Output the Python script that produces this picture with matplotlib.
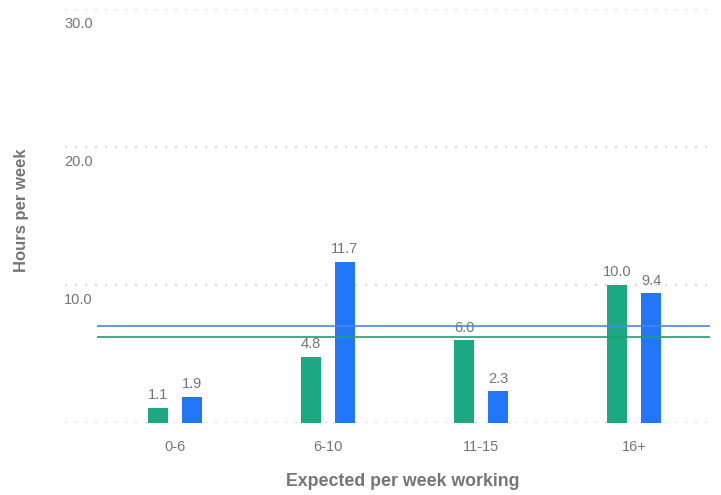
import matplotlib
matplotlib.use("Agg")
import matplotlib.pyplot as plt

categories = ["0-6", "6-10", "11-15", "16+"]
series_green = [1.1, 4.8, 6.0, 10.0]
series_blue = [1.9, 11.7, 2.3, 9.4]
avg_green = 6.2
avg_blue = 7.0
y_ticks = [0, 10, 20, 30]
y_tick_labels = ["", "10.0", "20.0", "30.0"]

plt.rcParams['font.family'] = ['Liberation Sans', 'DejaVu Sans']
GREEN = "#1ca883"
BLUE = "#2176fa"
GRAY = "#757575"

W, H = 721, 495
fig = plt.figure(figsize=(W / 100, H / 100), dpi=100)
ax = fig.add_axes([65 / W, 72 / H, (710 - 65) / W, (486 - 72) / H])

x = list(range(len(categories)))
off = 17 / 153
bw = 20 / 153
ax.set_xlim(-110 / 153, 3 + (710 - 634) / 153)
ax.set_ylim(0, 30)

for t in y_ticks:
    ax.axhline(t, color="#dcdcdc", lw=1.6, ls=(0, (1, 3.5)), zorder=0)
for t, lab in zip(y_ticks, y_tick_labels):
    if lab:
        ax.text(-111 / 153, t - 0.55, lab, ha="left", va="top", color=GRAY, fontsize=10.5)

ax.bar([i - off for i in x], series_green, width=bw, color=GREEN, zorder=2)
ax.bar([i + off for i in x], series_blue, width=bw, color=BLUE, zorder=2)

for i, v in enumerate(series_green):
    ax.text(i - off, v + 0.4, f"{v:.1f}", ha="center", va="bottom", color=GRAY, fontsize=10.5)
for i, v in enumerate(series_blue):
    ax.text(i + off, v + 0.4, f"{v:.1f}", ha="center", va="bottom", color=GRAY, fontsize=10.5)

ax.hlines(avg_blue, -0.51, 3.5, color="#4a86e8", lw=1.2, zorder=3)
ax.hlines(avg_green, -0.51, 3.5, color="#1e9e72", lw=1.2, zorder=3)

ax.set_xticks(x)
ax.set_xticklabels(categories, color=GRAY, fontsize=10.5)
ax.tick_params(axis="x", length=0, pad=12)
ax.set_yticks([])
for s in ax.spines.values():
    s.set_visible(False)

fig.text(403 / W, 1 - 482 / H, "Expected per week working", ha="center", va="center",
         color=GRAY, fontsize=12.8, fontweight="bold")
fig.text(22 / W, 1 - 210 / H, "Hours per week", ha="center", va="center", rotation=90,
         color=GRAY, fontsize=12, fontweight="bold")

fig.savefig("out.png", dpi=100)
